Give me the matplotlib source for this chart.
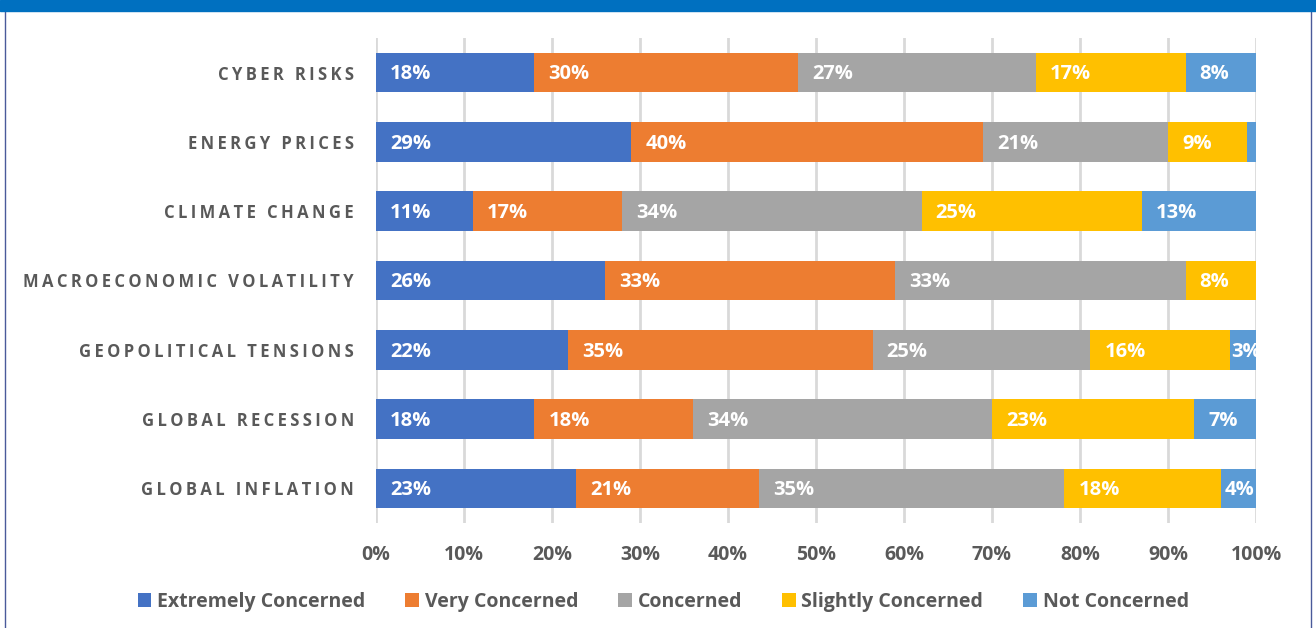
import numpy as np
import matplotlib.pyplot as plt
from matplotlib.patches import Rectangle

plt.rcParams['font.family'] = ['Open Sans', 'DejaVu Sans']

categories = ['CYBER RISKS', 'ENERGY PRICES', 'CLIMATE CHANGE', 'MACROECONOMIC VOLATILITY',
              'GEOPOLITICAL TENSIONS', 'GLOBAL RECESSION', 'GLOBAL INFLATION']
series = ['Extremely Concerned', 'Very Concerned', 'Concerned', 'Slightly Concerned', 'Not Concerned']

extremely = [18, 29, 11, 26, 22, 18, 23]
very = [30, 40, 17, 33, 35, 18, 21]
concerned = [27, 21, 34, 33, 25, 34, 35]
slightly = [17, 9, 25, 8, 16, 23, 18]
not_concerned = [8, 1, 13, 0, 3, 7, 4]

colors = ['#4472C4', '#ED7D31', '#A5A5A5', '#FFC000', '#5B9BD5']
text_grey = '#595959'

data = np.array([extremely, very, concerned, slightly, not_concerned], dtype=float)
share = data / data.sum(axis=0) * 100  # 100% stacked

fig = plt.figure(figsize=(13.16, 6.28), dpi=100)
ax = fig.add_axes([376 / 1316, 1 - 523 / 628, 880 / 1316, 485 / 628])

y = np.arange(len(categories))
left = np.zeros(len(categories))
label_w = 3.1  # approx width of a "nn%" label in axis units
for i, name in enumerate(series):
    ax.barh(y, share[i], left=left, height=0.57, color=colors[i], label=name, zorder=3)
    for j in range(len(categories)):
        if data[i, j] >= 2:
            pad = min(1.6, max(0.1, (share[i, j] - label_w) / 2))
            ax.text(left[j] + pad, y[j] + 0.025, f'{int(data[i, j])}%', color='white',
                    fontsize=14.5, fontweight='bold', va='center', ha='left', zorder=4,
                    clip_on=False)
    left += share[i]

ax.set_xlim(0, 100)
ax.set_ylim(len(categories) - 0.5, -0.5)
ax.set_xticks(np.arange(0, 101, 10))
ax.set_xticklabels([f'{v}%' for v in range(0, 101, 10)])
ax.set_yticks(y)
# letter-spaced category names
spaced = ['\u2009'.join(c) for c in categories]
ax.set_yticklabels(spaced)
ax.tick_params(axis='x', length=0, pad=15.5, labelsize=14, labelcolor=text_grey)
ax.tick_params(axis='y', length=0, pad=16, labelsize=12, labelcolor=text_grey)
for lab in ax.get_xticklabels() + ax.get_yticklabels():
    lab.set_fontweight('bold')
ax.grid(axis='x', color='#D9D9D9', linewidth=2, zorder=0)
for s in ax.spines.values():
    s.set_visible(False)

leg = fig.legend(loc='center', bbox_to_anchor=(0.504, 1 - 602 / 628), ncol=5, frameon=False,
                 handlelength=0.7, handleheight=0.7, handletextpad=0.3, columnspacing=2.05,
                 prop={'size': 14, 'weight': 'bold'})
for t in leg.get_texts():
    t.set_color(text_grey)

# header band and side frame
fig.patches.append(Rectangle((0, 1 - 11 / 628), 1, 11 / 628, transform=fig.transFigure,
                             color='#0070C0', zorder=5))
fig.add_artist(plt.Line2D([5 / 1316, 5 / 1316], [0, 1 - 11 / 628], transform=fig.transFigure,
                          color='#4A5A9A', linewidth=1))
fig.add_artist(plt.Line2D([1311 / 1316, 1311 / 1316], [0, 1 - 11 / 628], transform=fig.transFigure,
                          color='#4A5A9A', linewidth=1))

fig.savefig('out.png', dpi=100)
